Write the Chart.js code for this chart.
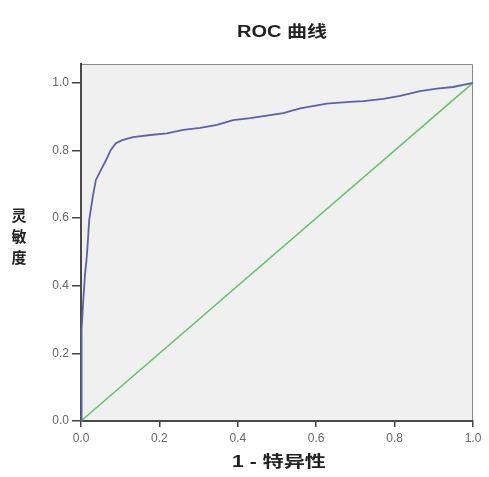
<!DOCTYPE html>
<html>
<head>
<meta charset="utf-8">
<script src="https://cdn.jsdelivr.net/npm/chart.js@4/dist/chart.umd.min.js"></script>
<style>
html,body{margin:0;padding:0;background:#ffffff;}
#wrap{width:489px;height:477px;position:relative;}
</style>
</head>
<body>
<div id="wrap"><canvas id="c" width="489" height="477"></canvas></div>
<script>
// ---- data ----
const chartTitle = "ROC 曲线";
const xAxisTitle = "1 - 特异性";
const yAxisTitle = ["灵", "敏", "度"];
const rocFpr = [0, 0.001, 0.002, 0.006, 0.010, 0.014, 0.016, 0.021, 0.030, 0.038, 0.051, 0.064, 0.076, 0.089, 0.105, 0.133, 0.177, 0.219, 0.261, 0.304, 0.347, 0.388, 0.432, 0.474, 0.516, 0.559, 0.627, 0.686, 0.720, 0.771, 0.814, 0.865, 0.908, 0.949, 1.0];
const rocTpr = [0, 0.12, 0.27, 0.36, 0.43, 0.476, 0.506, 0.595, 0.663, 0.713, 0.743, 0.772, 0.802, 0.822, 0.831, 0.840, 0.846, 0.851, 0.861, 0.867, 0.876, 0.890, 0.896, 0.903, 0.911, 0.925, 0.939, 0.944, 0.946, 0.953, 0.962, 0.976, 0.983, 0.988, 1.0];
const refX = [0, 1];
const refY = [0, 1];
const xTicks = [0, 0.2, 0.4, 0.6, 0.8, 1.0];
const yTicks = [0, 0.2, 0.4, 0.6, 0.8, 1.0];

const FONT = '"Liberation Sans", "Noto Sans CJK SC", sans-serif';

function stretchedText(ctx, text, cx, cy, sx) {
  ctx.save();
  ctx.translate(cx, cy);
  ctx.scale(sx, 1);
  ctx.fillText(text, 0, 0);
  ctx.restore();
}

const decor = {
  id: 'decor',
  beforeDraw(chart) {
    const {ctx, chartArea: a} = chart;
    ctx.save();
    ctx.fillStyle = '#f0f0f0';
    ctx.fillRect(a.left, a.top, a.right - a.left, a.bottom - a.top);
    ctx.strokeStyle = '#8a8a8a';
    ctx.lineWidth = 1;
    ctx.beginPath();
    ctx.moveTo(a.left, a.top + 0.5);
    ctx.lineTo(a.right - 0.5, a.top + 0.5);
    ctx.lineTo(a.right - 0.5, a.bottom);
    ctx.stroke();
    ctx.restore();
  },
  afterDraw(chart) {
    const {ctx} = chart;
    ctx.save();
    ctx.fillStyle = '#222222';
    ctx.textAlign = 'center';
    ctx.textBaseline = 'middle';
    ctx.font = 'bold 16px ' + FONT;
    stretchedText(ctx, chartTitle, 282, 33, 1.25);
    ctx.font = 'bold 16px ' + FONT;
    stretchedText(ctx, xAxisTitle, 279, 463, 1.32);
    ctx.font = 'bold 15px ' + FONT;
    yAxisTitle.forEach((ch, i) => {
      stretchedText(ctx, ch, 19, 217 + i * 21, 1.0);
    });
    ctx.restore();
  }
};

new Chart(document.getElementById('c'), {
  type: 'scatter',
  data: {
    datasets: [
      {
        data: rocFpr.map((v, i) => ({x: v, y: rocTpr[i]})),
        showLine: true,
        borderColor: '#5b63a8',
        borderWidth: 1.8,
        pointRadius: 0,
        tension: 0,
        clip: 4
      },
      {
        data: refX.map((v, i) => ({x: v, y: refY[i]})),
        showLine: true,
        borderColor: '#66c266',
        borderWidth: 1.5,
        pointRadius: 0,
        clip: 4
      }
    ]
  },
  plugins: [decor],
  options: {
    responsive: false,
    animation: false,
    events: [],
    layout: {padding: {left: 0, right: 16, top: 64, bottom: 0}},
    plugins: {legend: {display: false}, tooltip: {enabled: false}, title: {display: false}},
    scales: {
      x: {
        type: 'linear',
        min: 0,
        max: 1,
        afterBuildTicks: s => { s.ticks = xTicks.map(v => ({value: v})); },
        afterFit: s => { s.height = 56; },
        grid: {display: true, drawOnChartArea: false, drawTicks: true, tickLength: 6, color: '#444444', lineWidth: 1.5},
        border: {display: true, color: '#4a4a4a', width: 2},
        ticks: {
          padding: 4,
          color: '#666666',
          font: {family: FONT, size: 12},
          callback: v => Number(v).toFixed(1)
        }
      },
      y: {
        type: 'linear',
        min: 0,
        max: 1.056,
        afterBuildTicks: s => { s.ticks = yTicks.map(v => ({value: v})); },
        afterFit: s => { s.width = 81; },
        grid: {display: true, drawOnChartArea: false, drawTicks: true, tickLength: 9, color: '#444444', lineWidth: 1.5},
        border: {display: true, color: '#4a4a4a', width: 2},
        ticks: {
          padding: 3,
          color: '#666666',
          font: {family: FONT, size: 12},
          callback: v => Number(v).toFixed(1)
        }
      }
    }
  }
});
</script>
</body>
</html>
